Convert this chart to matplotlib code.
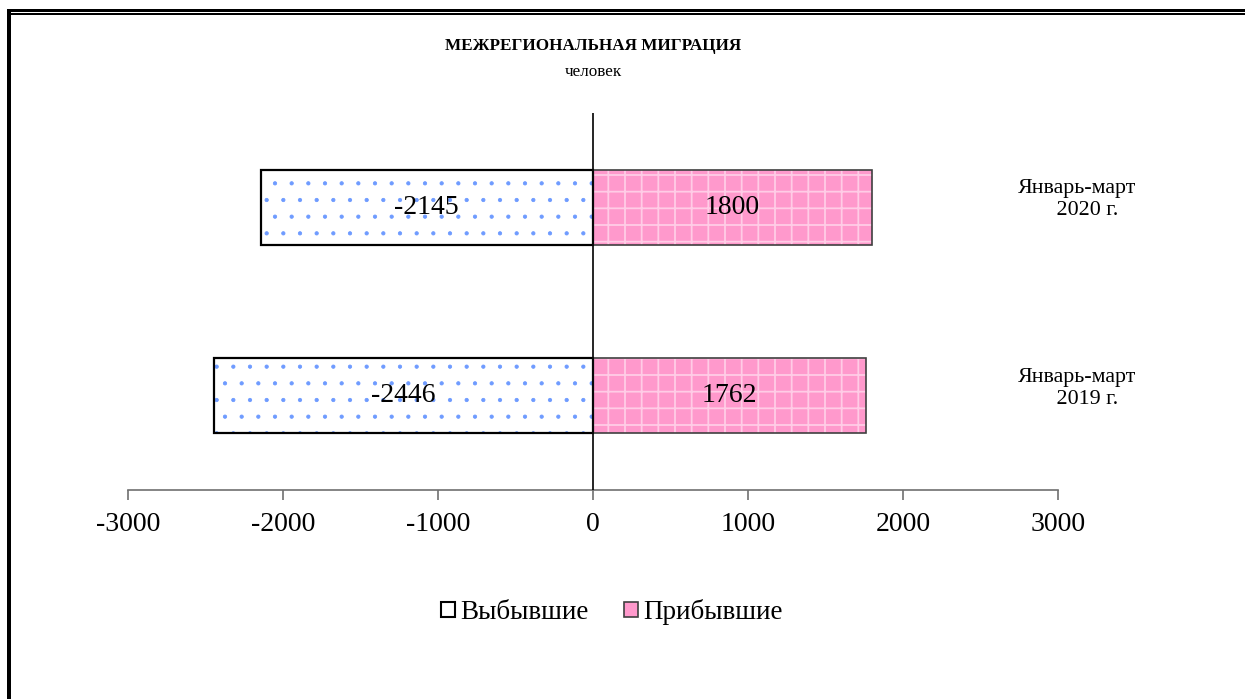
import matplotlib
matplotlib.use("Agg")
import matplotlib.pyplot as plt
from matplotlib.patches import Rectangle, Patch

plt.rcParams['font.family'] = ['Liberation Serif', 'DejaVu Serif']

categories = ["Январь-март\n       2019 г.", "Январь-март\n       2020 г."]
departed = [-2446, -2145]
arrived = [1762, 1800]
xticks = [-3000, -2000, -1000, 0, 1000, 2000, 3000]
series_names = ["Выбывшие", "Прибывшие"]

W, H = 1245, 699
fig = plt.figure(figsize=(W / 100, H / 100), dpi=100)
ax = fig.add_axes([128 / W, 1 - 490 / H, 930 / W, 377 / H])

ypos = list(range(len(categories)))
bh = 0.4

# departed bars: blue dot pattern on white, black outline
with plt.rc_context({'hatch.linewidth': 0.6}):
    ax.barh(ypos, departed, height=bh, color='white', edgecolor='#6E9BFF',
            hatch='.', linewidth=0, zorder=2)
ax.barh(ypos, departed, height=bh, fill=False, edgecolor='black',
        linewidth=1.6, zorder=3)
# arrived bars: pink with light dotted grid
with plt.rc_context({'hatch.linewidth': 1.3}):
    ax.barh(ypos, arrived, height=bh, color='#FF99CC', edgecolor='#FFCCE6',
            hatch='+', linewidth=0, zorder=2)
ax.barh(ypos, arrived, height=bh, fill=False, edgecolor='#404040',
        linewidth=1.2, zorder=3)

for y, v in zip(ypos, departed):
    ax.text(v / 2, y, str(v), ha='center', va='center', fontsize=20, zorder=4)
for y, v in zip(ypos, arrived):
    ax.text(v / 2, y, str(v), ha='center', va='center', fontsize=20, zorder=4)

for y, lab in zip(ypos, categories):
    ax.text(0.957, y + 0.04, lab, transform=ax.get_yaxis_transform(),
            ha='left', va='center', fontsize=15.8, linespacing=1.2)

ax.set_xlim(-3000, 3000)
ax.set_ylim(-0.5, 1.5)
ax.axvline(0, color='black', linewidth=1.2, zorder=5)

ax.set_xticks(xticks)
ax.set_xticklabels([str(t) for t in xticks], fontsize=20)
ax.tick_params(axis='x', direction='out', length=7, width=1.2,
               color='#707070', pad=9)
ax.set_yticks([])
for s in ['left', 'right', 'top']:
    ax.spines[s].set_visible(False)
ax.spines['bottom'].set_color('#707070')
ax.spines['bottom'].set_linewidth(1.2)

fig.text(593 / W, 1 - 46 / H, "МЕЖРЕГИОНАЛЬНАЯ МИГРАЦИЯ", ha='center',
         va='center', fontsize=12.3, fontweight='bold')
fig.text(593 / W, 1 - 72 / H, "человек", ha='center', va='center',
         fontsize=12.3)

handles = [Patch(facecolor='white', edgecolor='black', linewidth=1.5),
           Patch(facecolor='#FF99CC', edgecolor='#404040', linewidth=1.2)]
leg = fig.legend(handles, series_names, loc='center',
                 bbox_to_anchor=(612 / W, 1 - 612 / H), ncol=2, frameon=False,
                 fontsize=19.5, handlelength=0.5, handleheight=0.5,
                 handletextpad=0.2, columnspacing=1.3)

# page border (top double line, left thick line)
fig.add_artist(Rectangle((7 / W, 1 - 12 / H), 1 - 7 / W, 3 / H,
                         transform=fig.transFigure, color='black', lw=0))
fig.add_artist(Rectangle((10 / W, 1 - 14.5 / H), 1 - 10 / W, 1.5 / H,
                         transform=fig.transFigure, color='black', lw=0))
fig.add_artist(Rectangle((7 / W, 0), 4 / W, 1 - 9 / H,
                         transform=fig.transFigure, color='black', lw=0))

fig.savefig("out.png", dpi=100)
